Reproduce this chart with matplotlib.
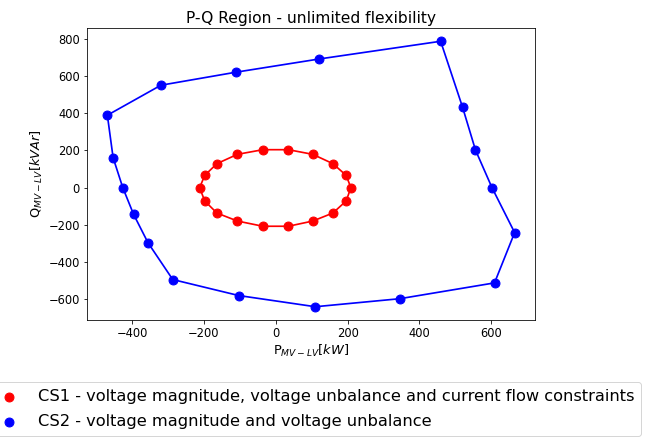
import matplotlib
matplotlib.use("Agg")
import matplotlib.pyplot as plt

# CS1 - circle-like region (kW, kVAr)
p_cs1 = [209, 196, 159, 103, 35, -36, -107, -164, -198, -212,
         -198, -164, -107, -36, 35, 103, 159, 196]
q_cs1 = [0, 66, 129, 179, 204, 204, 179, 129, 66, 0,
         -71, -136, -179, -207, -207, -179, -136, -71]

# CS2 - outer polygon
p_cs2 = [-469, -320, -111, 121, 459, 520, 556, 602, 665, 609,
         345, 110, -103, -287, -356, -396, -426, -453]
q_cs2 = [389, 550, 620, 691, 786, 432, 202, 0, -241, -511,
         -596, -639, -579, -493, -295, -143, 0, 161]

labels = ["CS1 - voltage magnitude, voltage unbalance and current flow constraints",
          "CS2 - voltage magnitude and voltage unbalance"]

fig = plt.figure(figsize=(660 / 72, 441 / 72), dpi=72)
ax = fig.add_axes([87 / 660, 121 / 441, 448 / 660, 292 / 441])

for p, q, c, lab in [(p_cs1, q_cs1, "red", labels[0]), (p_cs2, q_cs2, "blue", labels[1])]:
    ax.scatter(p, q, color=c, s=80, zorder=3, label=lab)
    ax.plot(p + p[:1], q + q[:1], color=c, lw=1.7)

ax.set_title("P-Q Region - unlimited flexibility", fontsize=15.5, pad=5)
ax.set_xlabel("P$_{MV-LV}$[$kW$]", fontsize=13, labelpad=3)
ax.set_ylabel("Q$_{MV-LV}$[$kVAr$]", fontsize=13, labelpad=3)
ax.set_xticks([-400, -200, 0, 200, 400, 600])
ax.set_yticks([-600, -400, -200, 0, 200, 400, 600, 800])
ax.tick_params(labelsize=11.5)

fig.legend(loc="upper left", bbox_to_anchor=(-0.022, 1 - 382 / 441), fontsize=16.3,
           markerscale=1.0, handletextpad=0.75, borderaxespad=0,
           labelspacing=0.6, borderpad=0.45)

fig.savefig("out.png", dpi=72)
